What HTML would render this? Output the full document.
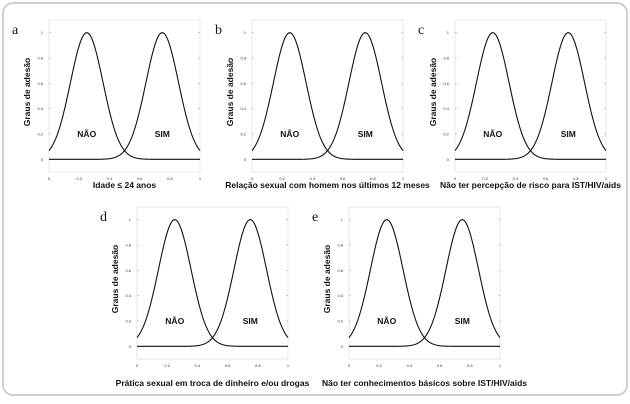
<!DOCTYPE html>
<html><head><meta charset="utf-8"><style>
html,body{margin:0;padding:0;background:#fff;}
svg{display:block;font-family:"Liberation Sans",sans-serif;}
</style></head><body>
<svg id="c" width="630" height="404" viewBox="0 0 630 404">
<rect x="3" y="3" width="624" height="392" rx="10" fill="#fff" stroke="#cfcfcf" stroke-width="2"/>
</svg>
<script>
const xTicks=[0,0.2,0.4,0.6,0.8,1];
const yTicks=[0,0.2,0.4,0.6,0.8,1];
const centers=[0.25,0.75];
const sigma=0.108;
const classLabels=["NÃO","SIM"];
const panelLetters=["a","b","c","d","e"];
const panelTitles=["Idade ≤ 24 anos","Relação sexual com homem nos últimos 12 meses","Não ter percepção de risco para IST/HIV/aids","Prática sexual em troca de dinheiro e/ou drogas","Não ter conhecimentos básicos sobre IST/HIV/aids"];
const panelPos=[[49,20],[252,20],[455,20],[137,207],[349,207]];
const NS="http://www.w3.org/2000/svg";
const svg=document.getElementById('c');
function mk(tag,attrs,parent){const e=document.createElementNS(NS,tag);for(const k in attrs)e.setAttribute(k,attrs[k]);parent.appendChild(e);return e;}
const W=151,H=152,ymin=-0.1,ymax=1.1;
panelLetters.forEach((L,i)=>{
  const [px,py]=panelPos[i];
  const g=mk('g',{},svg);
  
  
  const sx=v=>px+v*W;
  const sy=v=>py+(ymax-v)/(ymax-ymin)*H;
  const box=mk('rect',{x:px,y:py,width:W,height:H,fill:'none',stroke:'#e2e2e2','stroke-width':0.8},g);
  
  
  xTicks.forEach(t=>{
    const tx=mk('text',{x:sx(t),y:py+H+8,'font-size':4,'text-anchor':'middle',fill:'#333'},g);
    tx.textContent=t;
    
    
  });
  yTicks.forEach(t=>{
    const ty=mk('text',{x:px-6,y:sy(t)+1.5,'font-size':4,'text-anchor':'end',fill:'#333'},g);
    ty.textContent=t;
    
    
    mk('line',{x1:px,x2:px+2,y1:sy(t),y2:sy(t),stroke:'#999','stroke-width':0.5},g);
    mk('line',{x1:px+W-2,x2:px+W,y1:sy(t),y2:sy(t),stroke:'#999','stroke-width':0.5},g);
  });
  centers.forEach((c,j)=>{
    let d='';
    for(let k=0;k<=200;k++){const x=k/200;const y=Math.exp(-((x-c)**2)/(2*sigma*sigma));d+=(k?'L':'M')+sx(x).toFixed(2)+' '+sy(y).toFixed(2);}
    const p=mk('path',{d:d,fill:'none',stroke:'#111','stroke-width':1.1},g);
    
    
    const t=mk('text',{x:sx(c),y:sy(0.2)+3,'font-size':8.5,'font-weight':'bold','text-anchor':'middle',fill:'#111'},g);
    t.textContent=classLabels[j];
    
    
  });
  const lt=mk('text',{x:px-37,y:py+14,'font-size':14,'font-family':'Liberation Serif,serif',fill:'#111'},g);
  lt.textContent=L;
  
  
  const yt=mk('text',{x:0,y:0,'font-size':8.5,'font-weight':'bold','text-anchor':'middle',fill:'#111',transform:`translate(${px-19},${py+H/2-4}) rotate(-90)`},g);
  yt.textContent='Graus de adesão';
  
  
  const xt=mk('text',{x:px+W/2,y:py+H+(i<3?16:27),'font-size':8.5,'font-weight':'bold','text-anchor':'middle',fill:'#111'},g);
  xt.textContent=panelTitles[i];
  
  
});
</script>
</body></html>
